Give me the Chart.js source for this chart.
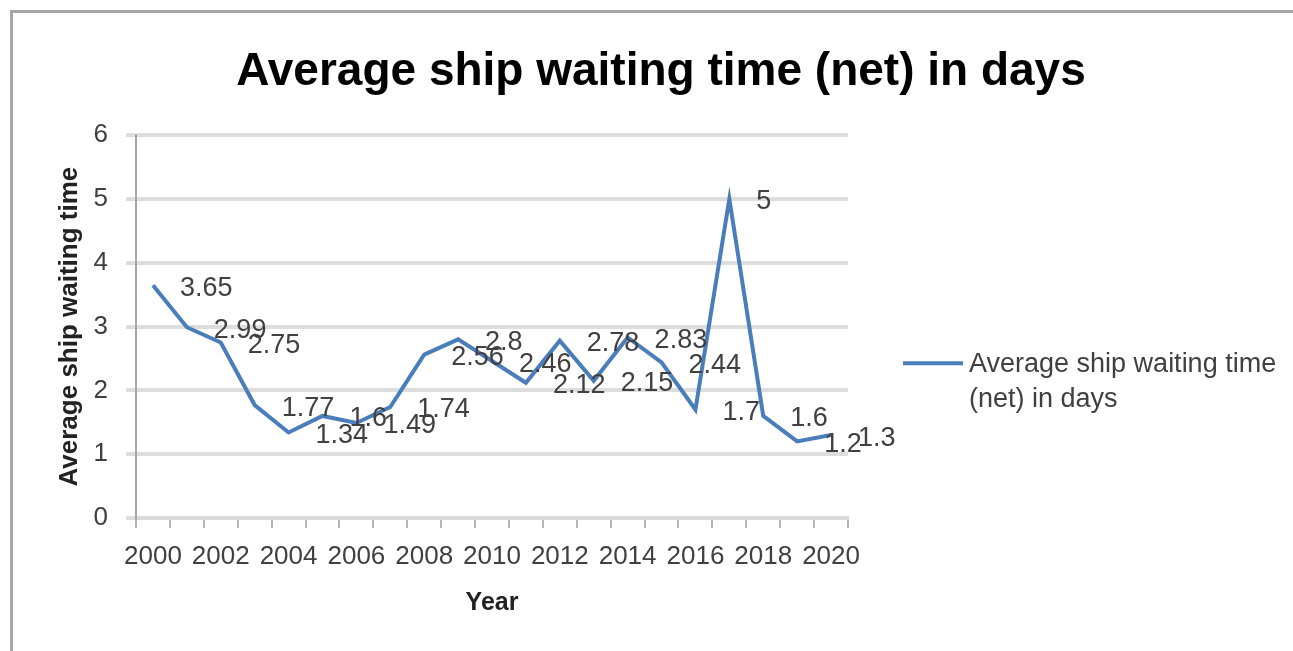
<!DOCTYPE html>
<html>
<head>
<meta charset="utf-8">
<script src="https://cdn.jsdelivr.net/npm/chart.js@4/dist/chart.umd.min.js"></script>
<style>
  body { margin: 0; background: #fff; }
  .frame {
    position: absolute; left: 10px; top: 10px; right: 0; bottom: 0;
    border-top: 3px solid #a6a6a6; border-left: 3px solid #a6a6a6;
  }
  canvas { position: absolute; left: 0; top: 0; }
</style>
</head>
<body>
<div class="frame"></div>
<canvas id="chart" width="1293" height="651"></canvas>
<script>
const years = ['2000', '2001', '2002', '2003', '2004', '2005', '2006', '2007', '2008', '2009', '2010',
  '2011', '2012', '2013', '2014', '2015', '2016', '2017', '2018', '2019', '2020'];
const waitingDays = [3.65, 2.99, 2.75, 1.77, 1.34, 1.6, 1.49, 1.74, 2.56, 2.8, 2.46,
  2.12, 2.78, 2.15, 2.83, 2.44, 1.7, 5, 1.6, 1.2, 1.3];
const yearTicks = ['2000', '2002', '2004', '2006', '2008', '2010', '2012', '2014', '2016', '2018', '2020'];
const seriesName = ['Average ship waiting time', '(net) in days'];

Chart.defaults.font.family = "'Liberation Sans', Arial, sans-serif";
Chart.defaults.color = '#404040';

// value labels to the right of each point, like the Excel "right" position
const pointLabels = {
  id: 'pointLabels',
  afterDatasetsDraw(chart) {
    const ctx = chart.ctx;
    const meta = chart.getDatasetMeta(0);
    ctx.save();
    ctx.font = "27px 'Liberation Sans', Arial, sans-serif";
    ctx.fillStyle = '#404040';
    ctx.textAlign = 'left';
    ctx.textBaseline = 'middle';
    meta.data.forEach((pt, i) => {
      ctx.fillText(String(waitingDays[i]), pt.x + 27, pt.y + 3);
    });
    ctx.restore();
  }
};

// legend on the right with the name wrapped over two lines
const sideLegend = {
  id: 'sideLegend',
  afterDraw(chart) {
    const ctx = chart.ctx;
    const ds = chart.data.datasets[0];
    const x = chart.chartArea.right + 55;
    const y = chart.chartArea.top + 228;
    ctx.save();
    ctx.strokeStyle = ds.borderColor;
    ctx.lineWidth = 4;
    ctx.beginPath();
    ctx.moveTo(x, y);
    ctx.lineTo(x + 60, y);
    ctx.stroke();
    ctx.font = "27px 'Liberation Sans', Arial, sans-serif";
    ctx.fillStyle = '#404040';
    ctx.textBaseline = 'middle';
    seriesName.forEach((line, i) => ctx.fillText(line, x + 66, y + 1 + i * 35));
    ctx.restore();
  }
};

new Chart(document.getElementById('chart'), {
  type: 'line',
  data: {
    labels: years,
    datasets: [{
      label: seriesName.join(' '),
      data: waitingDays,
      borderColor: '#4a7ebb',
      borderWidth: 4,
      pointRadius: 0,
      tension: 0,
      yAxisID: 'y'
    }]
  },
  options: {
    responsive: false,
    animation: false,
    layout: { padding: { left: 29, top: 0, right: 0, bottom: 0 } },
    plugins: {
      legend: { display: false },
      tooltip: { enabled: false },
      title: {
        display: true,
        text: 'Average ship waiting time (net) in days',
        color: '#000',
        font: { size: 46, weight: 'bold', lineHeight: 1.2 },
        padding: { top: 45, bottom: 35 }
      }
    },
    scales: {
      x: {
        offset: true,
        grid: { offset: true, drawOnChartArea: false, tickLength: 10, color: '#b5b5b5', lineWidth: 2 },
        border: { color: '#d9d9d9', width: 4 },
        ticks: {
          autoSkip: false,
          maxRotation: 0,
          padding: 13,
          color: '#404040',
          font: { size: 26 },
          callback: (v, i) => yearTicks.includes(years[i]) ? years[i] : ''
        },
        title: {
          display: true,
          text: 'Year',
          color: '#222',
          font: { size: 25, weight: 'bold', lineHeight: 1.2 },
          padding: { top: 16, bottom: 33 }
        },
        afterFit: s => { s.height = 133; }
      },
      y: {
        min: 0,
        max: 6,
        ticks: { stepSize: 1, padding: 18, color: '#404040', font: { size: 26 } },
        grid: { color: '#dddddd', lineWidth: 4, tickLength: 10 },
        border: { color: '#a6a6a6', width: 2 },
        title: {
          display: true,
          text: 'Average ship waiting time',
          color: '#222',
          font: { size: 26, weight: 'bold', lineHeight: 1.2 },
          padding: { top: 25, bottom: 0 }
        },
        afterFit: s => { s.width = 107; }
      },
      y2: {
        position: 'right',
        min: 0,
        max: 6,
        grid: { display: false },
        border: { display: false },
        ticks: { display: false },
        afterFit: s => { s.width = 445; }
      }
    }
  },
  plugins: [pointLabels, sideLegend]
});
</script>
</body>
</html>
